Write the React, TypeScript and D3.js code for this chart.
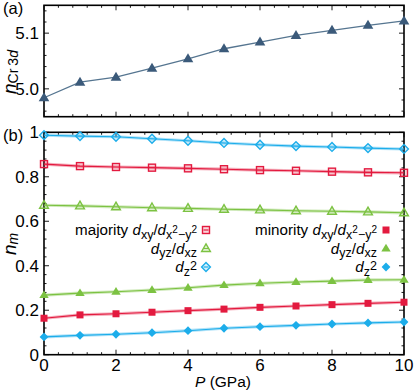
import React from "react";
import * as d3 from "d3";

const pressure = [0, 1, 2, 3, 4, 5, 6, 7, 8, 9, 10];
const nCr3d = [4.984, 5.012, 5.021, 5.037, 5.054, 5.072, 5.084, 5.096, 5.105, 5.114, 5.122];
const majDxy = [0.857, 0.848, 0.844, 0.841, 0.838, 0.834, 0.83, 0.827, 0.823, 0.82, 0.818];
const majDyz = [0.672, 0.669, 0.665, 0.661, 0.658, 0.654, 0.651, 0.647, 0.645, 0.642, 0.638];
const majDz2 = [0.987, 0.983, 0.98, 0.971, 0.962, 0.952, 0.944, 0.938, 0.934, 0.929, 0.925];
const minDxy = [0.164, 0.179, 0.184, 0.191, 0.198, 0.205, 0.213, 0.219, 0.225, 0.231, 0.236];
const minDyz = [0.268, 0.277, 0.283, 0.291, 0.301, 0.313, 0.321, 0.327, 0.331, 0.336, 0.337];
const minDz2 = [0.08, 0.087, 0.092, 0.099, 0.108, 0.119, 0.126, 0.132, 0.138, 0.143, 0.147];

const xTicks = [0, 2, 4, 6, 8, 10];
const topYTicks = [5.0, 5.1];
const botYTicks = [0, 0.2, 0.4, 0.6, 0.8, 1];

const RED = "#e31a3f";
const GREEN = "#7cc242";
const CYAN = "#1cadea";
const NAVY = "#3b5a7a";
const FONT = "'Liberation Sans', Arial, Helvetica, sans-serif";

const L = 44, R = 404;
const topT = 5.3, topB = 116.7;
const botT = 132.3, botB = 354.7;

const x = d3.scaleLinear().domain([0, 10]).range([L, R]);
const yTop = d3.scaleLinear().domain([4.95, 5.15]).range([topB, topT]);
const yBot = d3.scaleLinear().domain([0, 1]).range([botB, botT]);

function marker(type: string, cx: number, cy: number, color: string, open: boolean, key: string) {
  const fillOp = open ? 0.18 : 1;
  const sw = open ? 1.4 : 0;
  if (type === "square") {
    const s = 3.5;
    return <rect key={key} x={cx - s} y={cy - s} width={2 * s} height={2 * s} fill={color} fillOpacity={fillOp} stroke={color} strokeWidth={sw} />;
  }
  if (type === "diamond") {
    const s = 4.4;
    return <path key={key} d={`M${cx},${cy - s}L${cx + s},${cy}L${cx},${cy + s}L${cx - s},${cy}Z`} fill={color} fillOpacity={fillOp} stroke={color} strokeWidth={sw} />;
  }
  const w = open ? 4.4 : 4.7;
  return <path key={key} d={`M${cx},${cy - 4.7}L${cx + w},${cy + 3}L${cx - w},${cy + 3}Z`} fill={color} fillOpacity={fillOp} stroke={color} strokeWidth={sw} />;
}

function Series({ data, color, type, open, name }: { data: number[]; color: string; type: string; open: boolean; name: string }) {
  const line = d3.line<number>().x((_, i) => x(pressure[i])).y((d) => yBot(d));
  const path = line(data) || "";
  return (
    <g>
      <path d={path} fill="none" stroke={color} strokeOpacity={0.35} strokeWidth={3.2} />
      <path d={path} fill="none" stroke={color} strokeWidth={1.1} />
      {data.map((d, i) => marker(type, x(pressure[i]), yBot(d), color, open, `${name}-${i}`))}
    </g>
  );
}

function Frame({ top, bottom, yScale, yMajor, yMinorStep, yMin }: { top: number; bottom: number; yScale: any; yMajor: number[]; yMinorStep: number; yMin: number }) {
  const items: React.ReactNode[] = [];
  const xMinor = d3.range(0, 10.0001, 0.4);
  xMinor.forEach((v, i) => {
    const isMajor = Math.abs(v / 2 - Math.round(v / 2)) < 1e-6;
    const len = isMajor ? 5 : 2.5;
    const px = x(v);
    items.push(<line key={`xb${i}`} x1={px} x2={px} y1={bottom} y2={bottom - len} stroke="#000" strokeWidth={0.9} />);
    items.push(<line key={`xt${i}`} x1={px} x2={px} y1={top} y2={top + len} stroke="#000" strokeWidth={0.9} />);
  });
  const dom = yScale.domain();
  const yMinor = d3.range(yMin, dom[1] + 1e-9, yMinorStep);
  yMinor.forEach((v, i) => {
    const isMajor = yMajor.some((m) => Math.abs(m - v) < 1e-6);
    const len = isMajor ? 5 : 2.5;
    const py = yScale(v);
    items.push(<line key={`yl${i}`} x1={L} x2={L + len} y1={py} y2={py} stroke="#000" strokeWidth={0.9} />);
    items.push(<line key={`yr${i}`} x1={R} x2={R - len} y1={py} y2={py} stroke="#000" strokeWidth={0.9} />);
  });
  return (
    <g>
      {items}
      <rect x={L} y={top} width={R - L} height={bottom - top} fill="none" stroke="#000" strokeWidth={1.6} />
    </g>
  );
}

function LegendRow({ y, xm, type, color, open, children }: { y: number; xm: number; type: string; color: string; open: boolean; children: React.ReactNode }) {
  return (
    <g>
      <text x={xm - 9} y={y + 5} textAnchor="end" fontSize={15.2} fontFamily={FONT}>{children}</text>
      {marker(type, xm, y, color, open, "m")}
      {open && <line x1={xm - 2.5} x2={xm + 2.5} y1={y} y2={y} stroke={color} strokeWidth={1.2} />}
    </g>
  );
}

const SUB = 12.5;
const SUP = 10;
const dxyLabel = (prefix: string) => (
  <>
    {prefix}
    <tspan fontStyle="italic">d</tspan>
    <tspan dy={3.5} fontSize={SUB}>xy</tspan>
    <tspan dy={-3.5}>/</tspan>
    <tspan fontStyle="italic">d</tspan>
    <tspan dy={3.5} fontSize={SUB}>x</tspan>
    <tspan dy={-5.5} fontSize={SUP}>2</tspan>
    <tspan dy={5.5} fontSize={SUB}>−y</tspan>
    <tspan dy={-5.5} fontSize={SUP}>2</tspan>
  </>
);
const dyzLabel = (
  <>
    <tspan fontStyle="italic">d</tspan>
    <tspan dy={3.5} fontSize={SUB}>yz</tspan>
    <tspan dy={-3.5}>/</tspan>
    <tspan fontStyle="italic">d</tspan>
    <tspan dy={3.5} fontSize={SUB}>xz</tspan>
  </>
);
const dz2Label = (
  <>
    <tspan fontStyle="italic">d</tspan>
    <tspan dy={3.5} fontSize={SUB}>z</tspan>
    <tspan dy={-6} fontSize={SUB}>2</tspan>
  </>
);

export default function App() {
  const topLine = d3.line<number>().x((_, i) => x(pressure[i])).y((d) => yTop(d));
  const tickFont = 17;
  return (
    <svg width={415} height={391} style={{ position: "absolute", left: 0, top: 0 }} fontFamily={FONT}>
      <rect width={415} height={391} fill="#fff" />
      {/* Panel (a) */}
      <Frame top={topT} bottom={topB} yScale={yTop} yMajor={topYTicks} yMinorStep={0.02} yMin={4.96} />
      <path d={topLine(nCr3d) || ""} fill="none" stroke="#557590" strokeWidth={1.3} />
      {nCr3d.map((d, i) => (
        <path key={`t${i}`} d={`M${x(pressure[i])},${yTop(d) - 5.5}L${x(pressure[i]) + 5.3},${yTop(d) + 3.5}L${x(pressure[i]) - 5.3},${yTop(d) + 3.5}Z`} fill={NAVY} />
      ))}
      {topYTicks.map((v) => (
        <text key={`ty${v}`} x={39} y={yTop(v) + 6} textAnchor="end" fontSize={tickFont}>{v.toFixed(1)}</text>
      ))}
      <text x={3} y={14} fontSize={16.5}>(a)</text>
      <text transform={`translate(15.5,94) rotate(-90)`} fontSize={19}>
        <tspan fontStyle="italic">n</tspan>
        <tspan dy={2.5} fontSize={14}>Cr</tspan>
        <tspan dx={3} fontSize={14}>3</tspan>
        <tspan fontSize={14} fontStyle="italic">d</tspan>
      </text>

      {/* Panel (b) */}
      <Frame top={botT} bottom={botB} yScale={yBot} yMajor={botYTicks} yMinorStep={0.04} yMin={0} />
      <Series data={majDz2} color={CYAN} type="diamond" open={true} name="majz" />
      <Series data={majDxy} color={RED} type="square" open={true} name="majxy" />
      <Series data={majDyz} color={GREEN} type="triangle" open={true} name="majyz" />
      <Series data={minDyz} color={GREEN} type="triangle" open={false} name="minyz" />
      <Series data={minDxy} color={RED} type="square" open={false} name="minxy" />
      <Series data={minDz2} color={CYAN} type="diamond" open={false} name="minz" />
      {botYTicks.map((v) => (
        <text key={`by${v}`} x={39} y={yBot(v) + 6} textAnchor="end" fontSize={tickFont}>{v === 0 || v === 1 ? String(v) : v.toFixed(1)}</text>
      ))}
      {xTicks.map((v) => (
        <text key={`bx${v}`} x={x(v)} y={371} textAnchor="middle" fontSize={tickFont}>{v}</text>
      ))}
      <text x={3} y={141} fontSize={16.5}>(b)</text>
      <text x={223} y={387} textAnchor="middle" fontSize={15.5}>
        <tspan fontStyle="italic">P</tspan> (GPa)
      </text>
      <text transform={`translate(15.5,255) rotate(-90)`} fontSize={19}>
        <tspan fontStyle="italic">n</tspan>
        <tspan dy={2.5} fontSize={14} fontStyle="italic">m</tspan>
      </text>

      <LegendRow y={230} xm={206} type="square" color={RED} open={true}>{dxyLabel("majority ")}</LegendRow>
      <LegendRow y={248.5} xm={206} type="triangle" color={GREEN} open={true}>{dyzLabel}</LegendRow>
      <LegendRow y={267} xm={206} type="diamond" color={CYAN} open={true}>{dz2Label}</LegendRow>
      <LegendRow y={230} xm={386} type="square" color={RED} open={false}>{dxyLabel("minority ")}</LegendRow>
      <LegendRow y={248.5} xm={386} type="triangle" color={GREEN} open={false}>{dyzLabel}</LegendRow>
      <LegendRow y={267} xm={386} type="diamond" color={CYAN} open={false}>{dz2Label}</LegendRow>
    </svg>
  );
}
